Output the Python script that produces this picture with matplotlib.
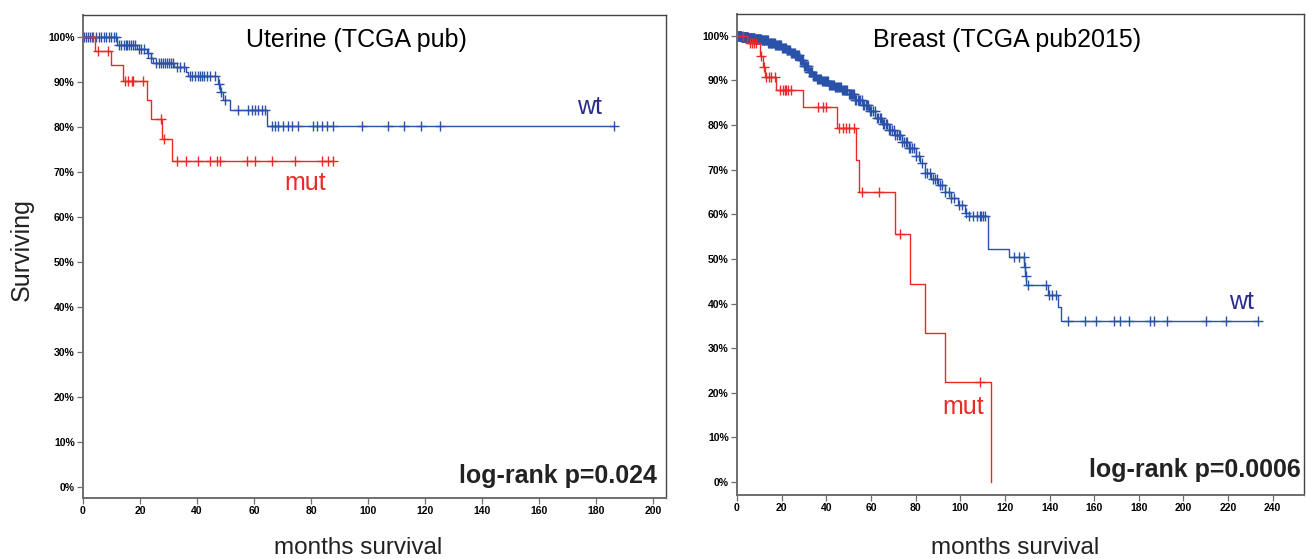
import matplotlib
matplotlib.use('agg')
import matplotlib.pyplot as plt
import numpy as np

plt.rcParams['font.family'] = ['Liberation Sans', 'DejaVu Sans']

BLUE = '#2a52a8'
RED = '#ea2a27'
NAVY = '#2b2b8c'

# --- Uterine (TCGA pub) ---
ut_wt_times = [12.0, 19.0, 22.3, 23.8, 24.5, 32.0, 36.0, 37.0, 47.3, 48.0, 49.2, 51.5, 64.4]
ut_wt_surv = [98.2, 97.3, 96.4, 95.4, 94.3, 93.4, 92.3, 91.3, 89.5, 87.8, 86.0, 83.8, 80.2]
ut_wt_end = 186.3
ut_wt_cens = [0.5, 1.2, 1.8, 2.5, 3.2, 4.5, 5.5, 6.3, 7.2, 8.0, 9.0, 10.0, 10.8, 11.5,
              12.8, 13.5, 14.3, 15.0, 15.6, 16.3, 17.0, 17.7, 18.3, 19.6, 20.5, 21.3,
              22.8, 24.0, 25.5, 26.6, 27.4, 28.2, 28.9, 29.6, 30.3, 31.0, 31.7,
              33.0, 34.2, 35.4, 37.6, 38.3, 39.3, 40.2, 41.0, 41.8, 42.6, 43.5, 44.5,
              46.3, 47.6, 48.5, 50.0, 54.5, 58.0, 59.2, 60.3, 61.5, 62.7, 63.9,
              66.2, 67.4, 68.5, 70.3, 72.0, 73.2, 75.5, 80.8, 82.0, 83.7, 85.5, 87.8,
              97.8, 107.0, 112.6, 118.6, 125.3, 186.3]
ut_mut_times = [4.2, 9.8, 13.9, 22.3, 23.9, 27.8, 31.1]
ut_mut_surv = [97.0, 93.8, 90.2, 86.0, 81.8, 77.3, 72.5]
ut_mut_end = 87.8
ut_mut_cens = [3.5, 5.1, 8.9, 14.7, 15.9, 17.1, 17.7, 21.2, 27.4, 28.6, 32.9, 36.3,
               40.4, 44.6, 46.9, 48.1, 57.4, 60.3, 66.2, 74.4, 83.7, 86.1, 87.8]

# --- Breast (TCGA pub2015) ---
br_wt_times = [2, 5, 8, 11, 14, 17, 20, 22, 24, 26, 28, 30, 32, 34, 36, 38, 41, 44, 47,
               50, 53, 56, 59, 62, 65, 68, 71, 74, 77, 80, 82, 84, 87, 90, 93, 96, 99,
               102, 104, 112.4, 122.0, 128.7, 129.1, 129.5, 139.1, 143.6, 145.0]
br_wt_surv = [99.8, 99.6, 99.3, 99.0, 98.5, 98.0, 97.3, 96.8, 96.2, 95.6, 94.6, 93.2,
              91.9, 91.1, 90.4, 89.8, 89.0, 88.5, 87.9, 87.0, 85.7, 84.5, 83.2, 81.7,
              80.3, 79.0, 77.8, 76.3, 74.9, 73.0, 71.5, 69.3, 67.9, 66.5, 65.0, 63.6,
              62.2, 60.2, 59.6, 52.2, 50.5, 48.3, 46.2, 44.2, 41.9, 39.2, 36.2]
br_wt_end = 233.3
br_wt_cens = [0.1, 0.2, 0.35, 0.5, 0.65, 0.8, 0.95, 1.1, 1.25, 1.4, 1.55, 1.7, 1.85,
              2.0, 2.15, 2.3, 2.45, 2.6, 2.75, 2.9, 3.05, 3.2, 3.35, 3.5, 3.65, 3.8,
              3.95, 4.1, 4.25, 4.4, 4.55, 4.7, 4.85, 5.0, 5.2, 5.4, 5.6, 5.8, 6.0, 6.2,
              6.4, 6.6, 6.8, 7.0, 7.2, 7.4, 7.6, 7.8, 8.0, 8.2, 8.4, 8.6, 8.8, 9.0,
              9.25, 9.5, 9.75, 10.0, 10.25, 10.5, 10.75, 11.0, 11.3, 11.6, 11.9, 12.2,
              12.5, 12.8, 13.1, 13.4, 13.7, 14.0, 14.35, 14.7, 15.05, 15.4, 15.75,
              16.1, 16.45, 16.8, 17.15, 17.5, 17.85, 18.2, 18.6, 19.0, 19.4, 19.8,
              20.2, 20.6, 21.0, 21.4, 21.8, 22.2, 22.6, 23.0, 23.4, 23.8, 24.2, 24.6,
              25.0, 25.4, 25.8, 26.2, 26.6, 27.0, 27.4, 27.9, 28.3, 28.8, 29.2, 29.7,
              30.1, 30.6, 31.0, 31.5, 31.9, 32.4, 32.8, 33.3, 33.7, 34.2, 34.6, 35.1,
              35.5, 36.0, 36.4, 36.9, 37.3, 37.8, 38.2, 38.7, 39.1, 39.6, 40.0, 40.5,
              40.9, 41.4, 41.8, 42.3, 42.7, 43.2, 43.6, 44.1, 44.5, 45.0, 45.4, 45.9,
              46.3, 46.8, 47.2, 47.7, 48.1, 48.6, 49.0, 49.5, 50.0, 50.5, 51.0, 51.5,
              52.0, 52.5, 53.0, 53.5, 54.0, 54.5, 55.2, 55.8, 56.4, 57.0, 57.6, 58.2,
              58.8, 59.5, 60.2, 61.0, 61.8, 62.5, 63.2, 64.0, 64.6, 65.3, 66.0, 66.8,
              67.4, 68.0, 68.7, 69.5, 70.2, 71.0, 71.7, 72.5, 73.2, 74.0, 74.7, 75.5,
              76.2, 77.0, 77.7, 78.5, 79.2, 80.0, 81.5, 83.0, 84.0, 85.0, 86.5, 88.0,
              88.8, 89.5, 91.0, 92.0, 93.0, 95.0, 96.0, 97.0, 99.5, 101.0, 102.5, 104.0,
              105.8, 107.3, 108.8, 109.5, 110.2, 111.0, 124.3, 126.5, 128.4, 128.9, 129.3,
              130.2, 138.4, 139.9, 141.3, 142.8, 148.3, 156.1, 160.9, 169.0, 171.4,
              175.4, 185.0, 186.8, 192.8, 210.0, 219.1, 233.3]
br_mut_times = [4.5, 10.5, 11.8, 12.5, 17.5, 29.5, 45.0, 53.5, 54.5, 71.0, 77.6, 84.0, 93.2, 113.9]
br_mut_surv = [98.4, 95.4, 93.1, 90.7, 87.9, 84.0, 79.3, 72.2, 64.9, 55.6, 44.5, 33.5, 22.4, 0.0]
br_mut_end = 113.9
br_mut_cens = [2.8, 5.8, 6.8, 7.8, 8.7, 10.9, 12.1, 13.2, 14.4, 15.4, 16.9, 19.1, 20.6,
               21.3, 22.1, 22.8, 24.3, 36.1, 38.4, 39.9, 45.8, 47.3, 48.7, 50.2, 52.4,
               56.1, 63.6, 73.2, 108.7]


def km(ax, times, surv, end, cens, color):
    t = np.r_[0, times, end]
    s = np.r_[100, surv, surv[-1]]
    ax.step(t, s, where='post', color=color, lw=1.0)
    idx = np.searchsorted(t, cens, side='right') - 1
    ax.plot(cens, s[idx], ls='none', marker='+', ms=7, mew=1.0, color=color)


def style(ax, xmax, xticks, ylo):
    ax.set_xlim(0, xmax)
    ax.set_ylim(ylo, 104.9)
    ax.set_xticks(xticks)
    ax.set_yticks(range(0, 101, 10))
    ax.set_yticklabels([f'{v}%' for v in range(0, 101, 10)])
    for side in ['left', 'bottom']:
        ax.spines[side].set_color('#6e6e6e')
        ax.spines[side].set_linewidth(1.4)
    for side in ['top', 'right']:
        ax.spines[side].set_color('#444444')
        ax.spines[side].set_linewidth(1.0)
    ax.tick_params(direction='out', length=4, width=0.9, color='#6e6e6e',
                   labelsize=7.5, pad=2)
    for lab in ax.get_xticklabels() + ax.get_yticklabels():
        lab.set_fontweight('bold')


fig = plt.figure(figsize=(13.06, 5.59), dpi=100)

ax1 = fig.add_axes([83 / 1306, 61 / 559, 583 / 1306, 483 / 559])
km(ax1, ut_wt_times, ut_wt_surv, ut_wt_end, ut_wt_cens, BLUE)
km(ax1, ut_mut_times, ut_mut_surv, ut_mut_end, ut_mut_cens, RED)
style(ax1, 204.6, range(0, 201, 20), -2.4)
ax1.text(96.1, 99.3, 'Uterine (TCGA pub)', ha='center', va='center', fontsize=18)
ax1.text(177.9, 84.4, 'wt', color=NAVY, ha='center', va='center', fontsize=18)
ax1.text(77.9, 67.6, 'mut', color=RED, ha='center', va='center', fontsize=18)
ax1.text(201.4, 2.4, 'log-rank p=0.024', ha='right', va='center', fontsize=18,
         fontweight='bold', color='#222222')

ax2 = fig.add_axes([737 / 1306, 64 / 559, 567 / 1306, 481 / 559])
km(ax2, br_wt_times, br_wt_surv, br_wt_end, br_wt_cens, BLUE)
km(ax2, br_mut_times, br_mut_surv, br_mut_end, br_mut_cens, RED)
style(ax2, 254, range(0, 241, 20), -2.9)
ax2.text(120.9, 99.1, 'Breast (TCGA pub2015)', ha='center', va='center', fontsize=18)
ax2.text(225.8, 40.4, 'wt', color=NAVY, ha='center', va='center', fontsize=18)
ax2.text(101.3, 16.8, 'mut', color=RED, ha='center', va='center', fontsize=18)
ax2.text(252.5, 2.8, 'log-rank p=0.0006', ha='right', va='center', fontsize=18,
         fontweight='bold', color='#222222')

fig.text(22 / 1306, 1 - 250 / 559, 'Surviving', rotation=90, ha='center', va='center',
         fontsize=18, color='#222222')
fig.text(358 / 1306, 1 - 548 / 559, 'months survival', ha='center', va='center',
         fontsize=17.5, color='#222222')
fig.text(1015 / 1306, 1 - 548 / 559, 'months survival', ha='center', va='center',
         fontsize=17.5, color='#222222')

fig.savefig('out.png', dpi=100)
